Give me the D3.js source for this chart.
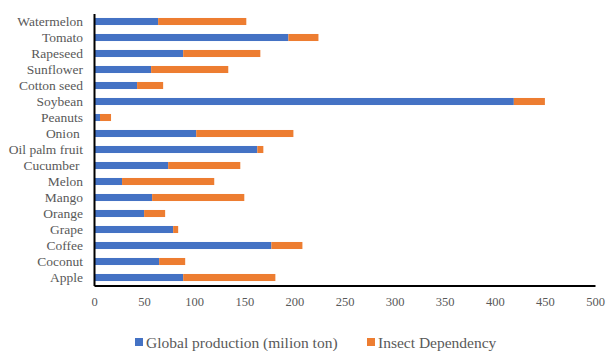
<!DOCTYPE html>
<html>
<head>
<meta charset="utf-8">
<script src="https://cdn.jsdelivr.net/npm/d3@7"></script>
<style>
  body { margin: 0; background: #fff; }
</style>
</head>
<body>
<script>
const crops = ["Watermelon", "Tomato", "Rapeseed", "Sunflower", "Cotton seed", "Soybean", "Peanuts",
  "Onion ", "Oil palm fruit", "Cucumber ", "Melon", "Mango", "Orange", "Grape", "Coffee", "Coconut", "Apple"];
const production = [64, 194, 89, 57, 43, 419, 6, 102, 163, 74, 28, 58, 50, 79, 177, 65, 89];
const insect = [88, 30, 77, 77, 26, 31, 11, 97, 6, 72, 92, 92, 21, 5, 31, 26, 92];
const xTicks = [0, 50, 100, 150, 200, 250, 300, 350, 400, 450, 500];
const seriesNames = ["Global production (milion ton)", "Insect Dependency"];
const colors = ["#4472C4", "#ED7D31"];

const FONT = '"Liberation Serif"';
const TEXT_COLOR = "#595959";

const outerWidth = 612;
const outerHeight = 351;
const margin = {top: 13.5, left: 94, bottom: 65.5, right: 18};
const width = outerWidth - margin.left - margin.right;
const height = outerHeight - margin.top - margin.bottom;

const rows = crops.map((c, i) => ({crop: c, production: production[i], insect: insect[i]}));

const svg = d3.select('body')
  .append('svg')
  .attr('width', outerWidth)
  .attr('height', outerHeight)
  .append('g')
  .attr('transform', `translate(${margin.left}, ${margin.top})`);

const xScale = d3.scaleLinear()
  .domain([0, 500])
  .range([0, 501]);

const yScale = d3.scaleBand()
  .domain(crops)
  .range([0, height])
  .paddingInner(0.56)
  .paddingOuter(0.28);

const stacked = d3.stack().keys(["production", "insect"])(rows);

svg.selectAll("g.series")
  .data(stacked)
  .enter()
  .append("g")
  .attr("class", "series")
  .attr("fill", (d, i) => colors[i])
  .selectAll("rect")
  .data(d => d)
  .enter()
  .append("rect")
  .attr("x", d => xScale(d[0]))
  .attr("y", d => yScale(d.data.crop))
  .attr("width", d => xScale(d[1]) - xScale(d[0]))
  .attr("height", yScale.bandwidth());

const xAxis = d3.axisBottom(xScale)
  .tickValues(xTicks)
  .tickSize(0)
  .tickPadding(12);

const yAxis = d3.axisLeft(yScale)
  .tickSize(0)
  .tickPadding(11);

const gx = svg.append("g")
  .attr("class", "axis x-axis")
  .attr("font-family", null)
  .attr("transform", `translate(0, ${height})`)
  .call(xAxis);
gx.select(".domain").attr("stroke", "#000").attr("stroke-width", 2);
gx.selectAll("text")
  .style("font-family", FONT)
  .style("font-size", "12.5px")
  .attr("fill", TEXT_COLOR);

const gy = svg.append("g")
  .attr("class", "axis y-axis")
  .call(yAxis);
gy.select(".domain").attr("stroke", "#000").attr("stroke-width", 2);
gy.selectAll("text")
  .style("font-family", FONT)
  .style("font-size", "13.5px")
  .style("white-space", "pre")
  .attr("fill", TEXT_COLOR);

// legend
const legendPos = [135, 367];
const legend = d3.select("svg").append("g")
  .selectAll("g")
  .data(seriesNames)
  .enter()
  .append("g")
  .attr("transform", (d, i) => `translate(${legendPos[i]}, 338)`);

legend.append("rect")
  .attr("width", 8)
  .attr("height", 8)
  .attr("fill", (d, i) => colors[i]);

legend.append("text")
  .attr("x", 11)
  .attr("y", 9.5)
  .style("font-family", FONT)
  .style("font-size", "15.5px")
  .attr("fill", TEXT_COLOR)
  .text(d => d);
</script>
</body>
</html>
